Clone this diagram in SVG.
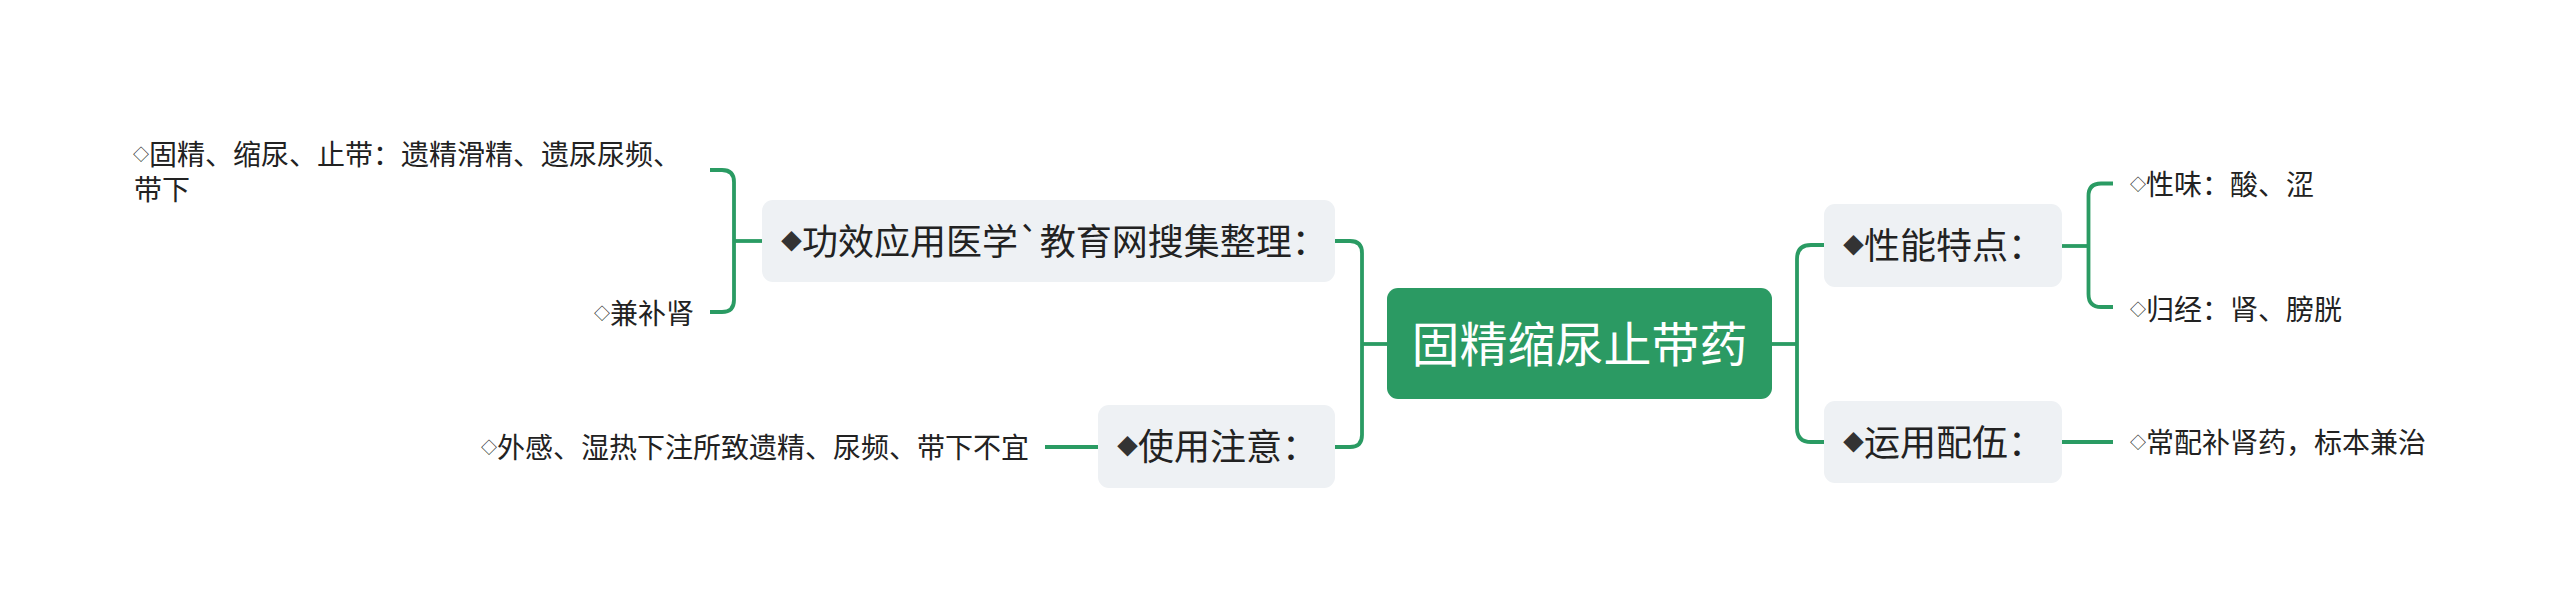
<svg xmlns="http://www.w3.org/2000/svg" width="2560" height="609" viewBox="0 0 2560 609">
<style>
.conn{fill:none;stroke:#2a9b63;stroke-width:3.8;stroke-linejoin:round}
.root rect{fill:#2b9a63}
.sub rect{fill:#eef1f4}
text{font-family:"Noto Sans CJK SC","Noto Sans",sans-serif}
.rt{font-size:48px;fill:#ffffff}
.st{font-size:36px;fill:#222222}
.lt{font-size:28px;fill:#222222}
.b1{font-size:21px;fill:#333333}
.b2{font-size:16px;fill:#222222}
</style>
<rect width="2560" height="609" fill="#ffffff"/>
<g id="connectors">
<path class="conn" d="M1388,344 H1362"/>
<path class="conn" d="M1335,241 H1350 Q1362,241 1362,253 V435 Q1362,447 1350,447 H1335"/>
<path class="conn" d="M762,241 H734"/>
<path class="conn" d="M710,170 H722 Q734,170 734,182 V300 Q734,312 722,312 H710"/>
<path class="conn" d="M1098,447 H1045"/>
<path class="conn" d="M1772,344 H1797"/>
<path class="conn" d="M1824,245 H1811 Q1797,245 1797,259 V428 Q1797,442 1811,442 H1824"/>
<path class="conn" d="M2062,246 H2088"/>
<path class="conn" d="M2113,183.5 H2101 Q2088.5,183.5 2088.5,196 V294 Q2088.5,307 2101,307 H2113"/>
<path class="conn" d="M2062,442 H2113"/>
</g>
<g id="root" class="root">
<rect x="1387" y="288" width="385" height="111" rx="11"/>
<text class="rt" x="1579.5" y="362" text-anchor="middle">固精缩尿止带药</text>
</g>
<g id="node-gongxiao" class="sub">
<rect x="762" y="200" width="573" height="82" rx="11"/>
<text class="st" x="781" y="254.7"><tspan class="b1" dy="-5.7">◆</tspan><tspan dy="5.7">功效应用医学`教育网搜集整理：</tspan></text>
</g>
<g id="node-shiyong" class="sub">
<rect x="1098" y="405" width="237" height="83" rx="11"/>
<text class="st" x="1117" y="460"><tspan class="b1" dy="-5.7">◆</tspan><tspan dy="5.7">使用注意：</tspan></text>
</g>
<g id="node-xingneng" class="sub">
<rect x="1824" y="204" width="238" height="83" rx="11"/>
<text class="st" x="1843" y="259"><tspan class="b1" dy="-5.7">◆</tspan><tspan dy="5.7">性能特点：</tspan></text>
</g>
<g id="node-yunyong" class="sub">
<rect x="1824" y="401" width="238" height="82" rx="11"/>
<text class="st" x="1843" y="455.7"><tspan class="b1" dy="-5.7">◆</tspan><tspan dy="5.7">运用配伍：</tspan></text>
</g>
<g id="leaf-gujing">
<text class="lt" x="133" y="164.6"><tspan class="b2" dy="-4.6">◇</tspan><tspan dy="4.6">固精、缩尿、止带：遗精滑精、遗尿尿频、</tspan><tspan x="134" y="199.6">带下</tspan></text>
</g>
<g id="leaf-jianbushen">
<text class="lt" x="594" y="323.6"><tspan class="b2" dy="-4.6">◇</tspan><tspan dy="4.6">兼补肾</tspan></text>
</g>
<g id="leaf-waigan">
<text class="lt" x="481" y="457.6"><tspan class="b2" dy="-4.6">◇</tspan><tspan dy="4.6">外感、湿热下注所致遗精、尿频、带下不宜</tspan></text>
</g>
<g id="leaf-xingwei">
<text class="lt" x="2130" y="194.6"><tspan class="b2" dy="-4.6">◇</tspan><tspan dy="4.6">性味：酸、涩</tspan></text>
</g>
<g id="leaf-guijing">
<text class="lt" x="2130" y="319.6"><tspan class="b2" dy="-4.6">◇</tspan><tspan dy="4.6">归经：肾、膀胱</tspan></text>
</g>
<g id="leaf-changpei">
<text class="lt" x="2130" y="452.6"><tspan class="b2" dy="-4.6">◇</tspan><tspan dy="4.6">常配补肾药，标本兼治</tspan></text>
</g>
</svg>
